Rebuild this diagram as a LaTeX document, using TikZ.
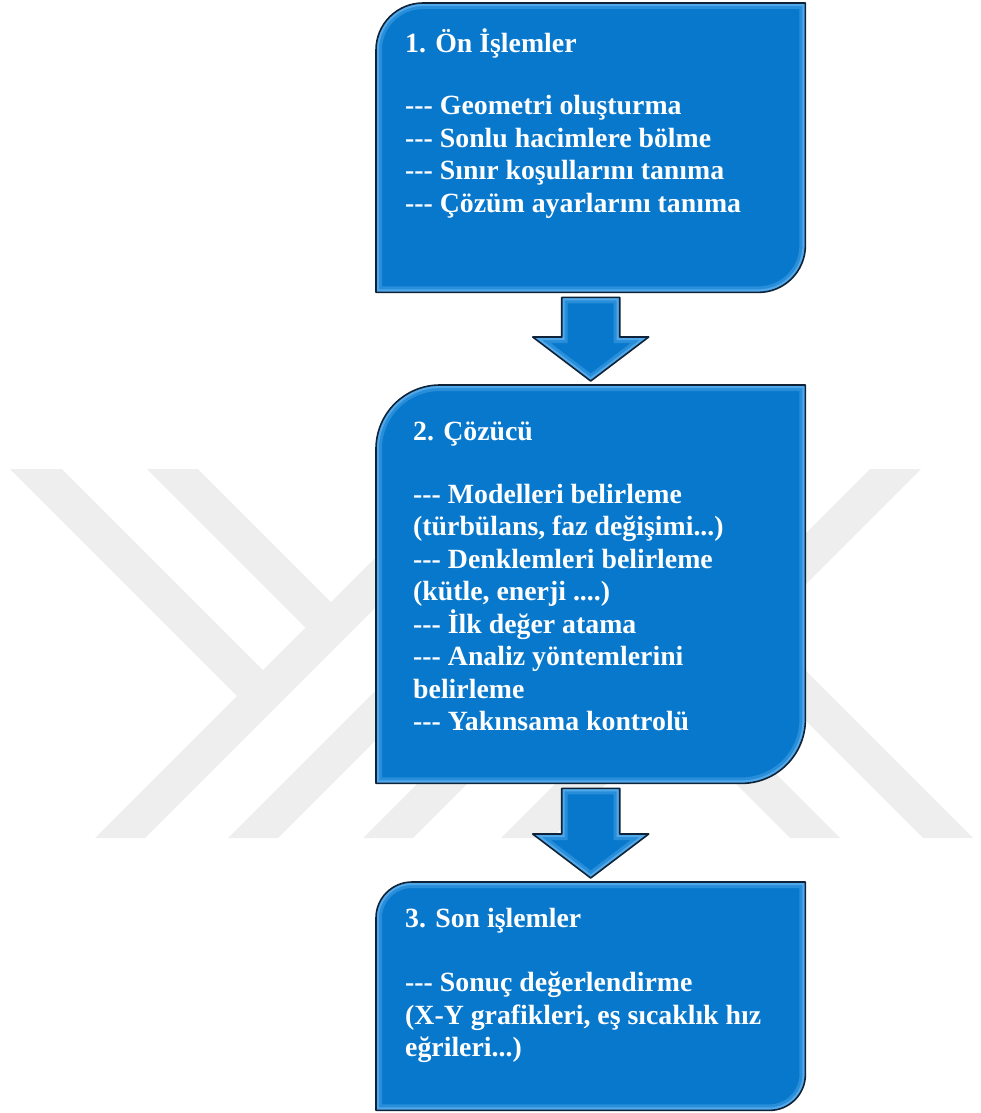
\documentclass[tikz,border=0pt]{standalone}
\usepackage{fontspec}
\newfontfamily\boxfont{Liberation Serif}[Ligatures=TeXOff]
\usetikzlibrary{calc}
\definecolor{boxblue}{RGB}{8,120,204}
\definecolor{boxlight}{RGB}{80,168,234}
\definecolor{boxedge}{RGB}{14,34,56}
\definecolor{wmgray}{RGB}{238,238,238}
\newcommand{\tstrut}{\rule{0pt}{30pt}}
\newcommand{\panelpath}[2]{(#1.south west) -- ([yshift=-#2pt]#1.north west) arc[start angle=180,end angle=270,radius=#2] -- (#1.north east) -- ([yshift=#2pt]#1.south east) arc[start angle=0,end angle=90,radius=#2] -- cycle}
\newcommand{\bevelfill}[1]{%
  \begin{scope}
    \clip #1;
    \fill[boxblue] #1;
    \draw[line width=12pt, boxlight!45!boxblue] #1;
    \draw[line width=6pt, boxlight] #1;
  \end{scope}
  \draw[boxedge, line width=1.6pt, line join=round] #1;}
\newcommand{\blockarr}[2]{%
  \coordinate (#1-top) at ([yshift=-5pt]#1.south);
  \coordinate (#2-tip) at ([yshift=4pt]#2.north);
  \bevelfill{($(#1-top)+(-29,0)$) -- ($(#1-top)+(29,0)$) -- ($(#2-tip)+(29,-44)$) -- ($(#2-tip)+(58,-44)$) -- (#2-tip) -- ($(#2-tip)+(-58,-44)$) -- ($(#2-tip)+(-29,-44)$) -- cycle}}
\tikzset{
  panel/.style={rectangle, draw=none, inner sep=0pt, anchor=north west, minimum width=429pt},
  txt/.style={anchor=north west, inner sep=0pt, align=left, text=white,
    font={\boxfont\bfseries\fontsize{27.8}{32.5}\selectfont}},
  wm/.style={fill=wmgray}
}
\begin{document}
\begin{tikzpicture}[x=1pt,y=-1pt]
  \useasboundingbox (0,0) rectangle (981,1113);
  \begin{scope}
    \clip (0,469) rectangle (981,838);
    \fill[wm] (95,838) -- (145,838) -- (514,469) -- (464,469) -- cycle;
    \fill[wm] (228,838) -- (278,838) -- (647,469) -- (597,469) -- cycle;
    \fill[wm] (363,838) -- (413,838) -- (782,469) -- (732,469) -- cycle;
    \fill[wm] (501,838) -- (552,838) -- (921,469) -- (870,469) -- cycle;
    \fill[wm] (10,469) -- (62,469) -- (263,670) -- (237,696) -- cycle;
    \fill[wm] (147,469) -- (198,469) -- (331,602) -- (305.5,627.5) -- cycle;
    \fill[wm] (790,838) -- (840,838) -- (670.5,668.5) -- (645.5,693.5) -- cycle;
    \fill[wm] (923,838) -- (973,838) -- (737,602) -- (712,627) -- cycle;
  \end{scope}
  \node[panel, minimum height=289pt] (pre) at (376,3) {};
  \node[panel, minimum height=398pt] (solver) at (376,385) {};
  \node[panel, minimum height=228pt] (post) at (376,882) {};
  \bevelfill{\panelpath{pre}{47}}
  \bevelfill{\panelpath{solver}{64}}
  \bevelfill{\panelpath{post}{36}}
  \blockarr{pre}{solver}
  \blockarr{solver}{post}
  \node[txt] (pre-txt) at (405,22) {\tstrut 1. Ön İşlemler\\[30pt]
    --- Geometri oluşturma\\
    --- Sonlu hacimlere bölme\\
    --- Sınır koşullarını tanıma\\
    --- Çözüm ayarlarını tanıma};
  \node[txt] (solver-txt) at (413,410) {\tstrut 2. Çözücü\\[30.5pt]
    --- Modelleri belirleme\\
    (türbülans, faz değişimi...)\\
    --- Denklemleri belirleme\\
    (kütle, enerji ....)\\
    --- İlk değer atama\\
    --- Analiz yöntemlerini\\
    belirleme\\
    --- Yakınsama kontrolü};
  \node[txt] (post-txt) at (405,897) {\tstrut 3. Son işlemler\\[32pt]
    --- Sonuç değerlendirme\\
    (X-Y grafikleri, eş sıcaklık hız\\
    eğrileri...)};
\end{tikzpicture}
\end{document}
